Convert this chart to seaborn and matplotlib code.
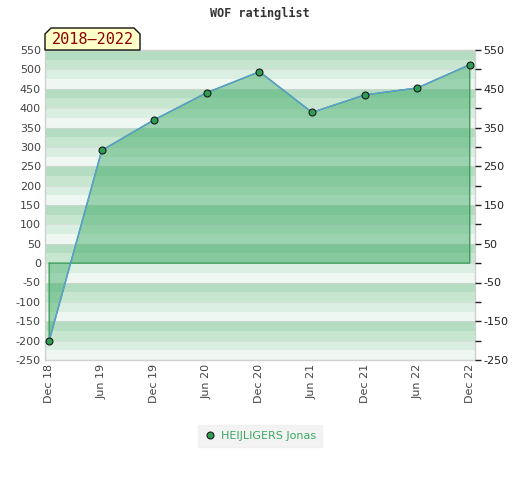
import numpy as np
import pandas as pd
import matplotlib
matplotlib.use("Agg")
import matplotlib.pyplot as plt
from matplotlib.patches import Polygon
from matplotlib.lines import Line2D
import seaborn as sns

PERIODS = ["Dec 18", "Jun 19", "Dec 19", "Jun 20", "Dec 20", "Jun 21", "Dec 21", "Jun 22", "Dec 22"]
RATING = [-200, 291, 370, 440, 494, 389, 434, 452, 512]
PLAYER = "HEIJLIGERS Jonas"
TITLE = "WOF ratinglist"
RANGE_LABEL = "2018\u20132022"
LEFT_TICKS = list(range(-250, 551, 50))
RIGHT_LABELS = list(range(-250, 551, 100))

sns.set_theme(style="white")
plt.rcParams["font.family"] = ["DejaVu Sans"]

df = pd.DataFrame({"x": np.arange(len(PERIODS)), "rating": RATING})

fig = plt.figure(figsize=(5.2, 4.8), dpi=100)
ax = fig.add_axes([45 / 520, 1 - 360 / 480, 430 / 520, 310 / 480])

# background bands: 4 shades repeating every 100
shades = ["#eef7f1", "#daeee1", "#c7e6d0", "#b4dcc1"]
for lo in range(-250, 550, 25):
    k = ((lo + 250) // 25) % 4
    ax.axhspan(lo, lo + 25, color=shades[k], lw=0, zorder=0)
for y in LEFT_TICKS[1:-1]:
    ax.axhline(y, color="#d6d6d6", lw=0.8, alpha=0.6, zorder=0.5)

# area to zero
ax.fill_between(df["x"], df["rating"], 0, facecolor="#37a760", alpha=0.45,
                edgecolor="none", zorder=1)
xs = list(df["x"])
poly_x = [xs[0]] + xs + [xs[-1]]
poly_y = [0] + list(df["rating"]) + [0]
ax.plot(poly_x + [xs[0]], poly_y + [0], color="#3d9e5c", lw=1, zorder=2)

sns.lineplot(data=df, x="x", y="rating", ax=ax, color="#5b9fd6", lw=1.0,
             marker="o", markersize=5, markerfacecolor="#2f9e55",
             markeredgecolor="#1a1a1a", markeredgewidth=0.8, zorder=3,
             label=PLAYER, legend=False)

ax.set_xlim(-0.08, len(PERIODS) - 1 + 0.1)
ax.set_ylim(-250, 550)
ax.set_xticks(df["x"])
ax.set_xticklabels(PERIODS, rotation=90, fontsize=8, color="#444444")
ax.set_yticks(LEFT_TICKS)
ax.set_yticklabels([str(v) for v in LEFT_TICKS], fontsize=8, color="#444444")
ax.set_xlabel("")
ax.set_ylabel("")
ax.tick_params(axis="both", length=0, pad=3)

for s in ax.spines.values():
    s.set_color("#d0d0d0")
    s.set_linewidth(1)

ax2 = ax.twinx()
ax2.set_ylim(-250, 550)
ax2.set_yticks(LEFT_TICKS)
ax2.set_yticklabels([str(v) if v in RIGHT_LABELS else "" for v in LEFT_TICKS],
                    fontsize=8, color="#222222")
ax2.tick_params(axis="y", length=4, width=1, color="#222222", direction="out", pad=2)
for s in ax2.spines.values():
    s.set_visible(False)

fig.text(0.5, 1 - 13 / 480, TITLE, ha="center", va="center",
         family="DejaVu Sans Mono", fontweight="bold", fontsize=8.5, color="#333333")

# range label box with chamfered top corners
w, h = 95 / 430, 22 / 310
cx, cy = 6 / 430, 6 / 310
box = Polygon([(0, 1), (0, 1 + h - cy), (cx, 1 + h), (w - cx, 1 + h), (w, 1 + h - cy), (w, 1)],
              closed=True, transform=ax.transAxes, facecolor="#ffffc8",
              edgecolor="#111111", lw=1, clip_on=False, zorder=5)
ax.add_patch(box)
ax.text(w / 2, 1 + h / 2 - 0.003, RANGE_LABEL, transform=ax.transAxes, ha="center",
        va="center", family="DejaVu Sans Mono", fontsize=11, color="#8b0000", zorder=6)

h1 = Line2D([], [], ls="none", marker="o", markersize=5, markerfacecolor="#2f9e55",
            markeredgecolor="#1a1a1a", markeredgewidth=0.8)
leg = fig.legend([h1], [PLAYER], loc="center", bbox_to_anchor=(260 / 520, 1 - 436 / 480),
                 frameon=True, fontsize=8, labelcolor="#3aa862", handletextpad=0.4,
                 borderpad=0.5, handlelength=1.2, fancybox=False)
leg.get_frame().set_facecolor("#f0f0f0")
leg.get_frame().set_edgecolor("#f0f0f0")

fig.savefig("out.png", dpi=100)
